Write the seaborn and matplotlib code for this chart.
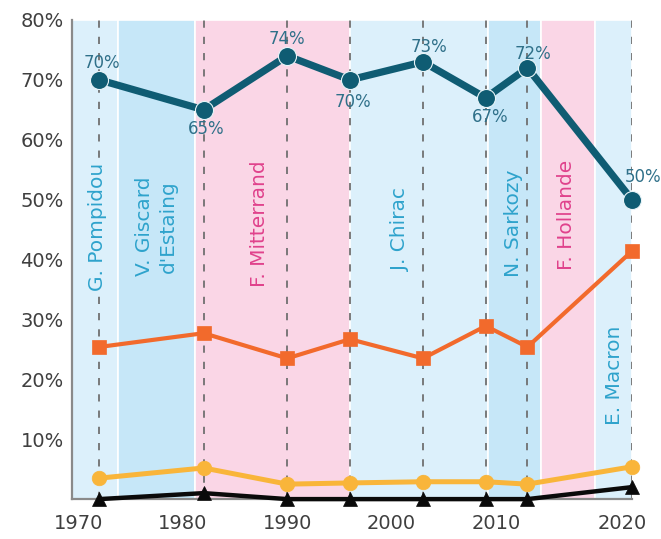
import matplotlib
matplotlib.use("Agg")
import matplotlib.pyplot as plt
import seaborn as sns
import pandas as pd

# ---- data ----
years = [1972, 1982, 1990, 1996, 2003, 2009, 2013, 2023]
teal_vals = [70, 65, 74, 70, 73, 67, 72, 50]
orange_vals = [25.4, 27.7, 23.5, 26.7, 23.5, 28.9, 25.4, 41.4]
yellow_vals = [3.5, 5.2, 2.5, 2.7, 2.9, 2.9, 2.5, 5.4]
black_vals = [0, 1.0, 0, 0, 0, 0, 0, 2.0]

presidents = ["G. Pompidou", "V. Giscard\nd'Estaing", "F. Mitterrand", "J. Chirac",
              "N. Sarkozy", "F. Hollande", "E. Macron"]
term_edges = [1969.4, 1973.8, 1981.2, 1996.0, 2009.2, 2014.3, 2019.5, 2023.0]
label_x = [1971.8, 1977.5, 1987.3, 2000.8, 2011.7, 2016.7, 2021.3]
label_y = [45.5, 45.5, 46.0, 45.0, 46.0, 47.5, 20.7]

ytick_vals = [10, 20, 30, 40, 50, 60, 70, 80]
xtick_labels = ["1970", "1980", "1990", "2000", "2010", "2020"]
xtick_pos = [1970, 1980, 1990, 2000, 2010, 2022.1]

# ---- style ----
sns.set_theme(style="white")
plt.rcParams["font.family"] = ["DejaVu Sans"]

BLUE_LIGHT = "#dcf0fb"
BLUE_MID = "#c6e7f8"
PINK = "#fad6e6"
band_colors = [BLUE_LIGHT, BLUE_MID, PINK, BLUE_LIGHT, BLUE_MID, PINK, BLUE_LIGHT]
BLUE_TXT = "#2ea3cc"
PINK_TXT = "#e0428c"
label_colors = [BLUE_TXT, BLUE_TXT, PINK_TXT, BLUE_TXT, BLUE_TXT, PINK_TXT, BLUE_TXT]

TEAL = "#0f5c73"
ORANGE = "#f26a2c"
YELLOW = "#f9b53a"
BLACK = "#0a0a0a"

fig = plt.figure(figsize=(6.61, 5.39), dpi=100)
fig.patch.set_facecolor("white")
ax = fig.add_axes([0.109, 0.074, 0.847, 0.889])
ax.set_facecolor("white")

# president terms as background bands
for i in range(len(presidents)):
    ax.axvspan(term_edges[i], term_edges[i + 1], facecolor=band_colors[i],
               edgecolor="white", linewidth=1.2, zorder=0)

# dashed guides at each data year
ax.vlines(years, 0, 80, colors="#707070", linestyles=(0, (4, 5)), linewidth=1.3, zorder=1)

# president names
for name, x, y, c, bc in zip(presidents, label_x, label_y, label_colors, band_colors):
    ax.text(x, y, name, rotation=90, ha="center", va="center", color=c,
            fontsize=14.5, linespacing=1.35, zorder=2,
            bbox=dict(facecolor=bc, edgecolor="none", pad=1.0))

df = pd.DataFrame({"year": years, "teal": teal_vals, "orange": orange_vals,
                   "yellow": yellow_vals, "black": black_vals})

sns.lineplot(data=df, x="year", y="black", ax=ax, color=BLACK, linewidth=3.2,
             marker="^", markersize=10, markeredgecolor=BLACK, markeredgewidth=0.5,
             clip_on=False, zorder=3)
sns.lineplot(data=df, x="year", y="yellow", ax=ax, color=YELLOW, linewidth=3.6,
             marker="o", markersize=10.5, markeredgecolor=YELLOW, markeredgewidth=0.5,
             clip_on=False, zorder=4)
sns.lineplot(data=df, x="year", y="orange", ax=ax, color=ORANGE, linewidth=3.0,
             marker="s", markersize=10.5, markeredgecolor=ORANGE, markeredgewidth=0.5,
             clip_on=False, zorder=5)
sns.lineplot(data=df, x="year", y="teal", ax=ax, color=TEAL, linewidth=5.2,
             marker="o", markersize=13, markeredgecolor="#e8f4f8", markeredgewidth=0.8,
             clip_on=False, zorder=6)

# value labels on the top series
offsets = [(2, 12), (2, -14), (0, 12), (2, -16), (4, 11), (3, -14), (4, 10), (8, 16)]
for x, v, (dx, dy) in zip(years, teal_vals, offsets):
    ax.annotate(f"{v}%", (x, v), xytext=(dx, dy), textcoords="offset points",
                ha="center", va="center", fontsize=12, color="#2f7089", zorder=7)

ax.set_xlim(term_edges[0], term_edges[-1])
ax.set_ylim(0, 80)
ax.set_yticks(ytick_vals)
ax.set_yticklabels([f"{v}%" for v in ytick_vals])
ax.set_xticks(xtick_pos)
ax.set_xticklabels(xtick_labels)
ax.tick_params(axis="both", length=0, labelsize=14, labelcolor="#3f3f3f")
ax.tick_params(axis="y", pad=6)
ax.tick_params(axis="x", pad=11)
ax.set_xlabel("")
ax.set_ylabel("")

for side in ["top", "right"]:
    ax.spines[side].set_visible(False)
for side in ["left", "bottom"]:
    ax.spines[side].set_color("#8a8a8a")
    ax.spines[side].set_linewidth(1.6)

fig.savefig("out.png", dpi=100, facecolor="white")
